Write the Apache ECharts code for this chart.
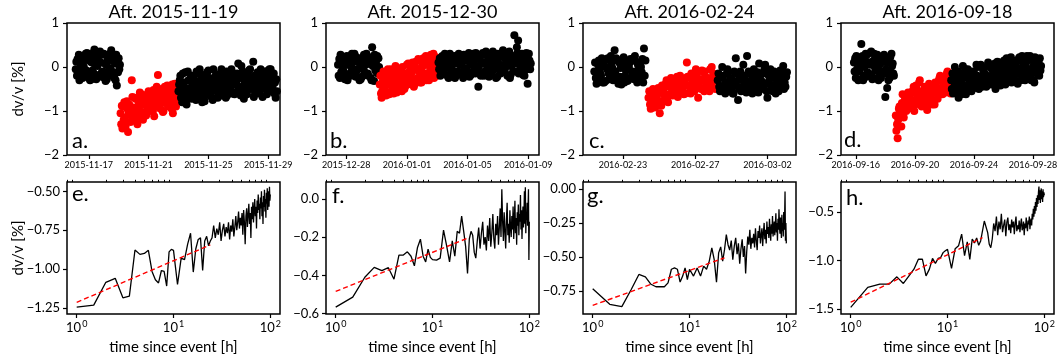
<!DOCTYPE html>
<html>
<head>
<meta charset="utf-8">
<script src="https://cdn.jsdelivr.net/npm/echarts@6/dist/echarts.min.js"></script>
<style>
  html, body { margin: 0; padding: 0; background: #fff; }
  #chart { width: 1058px; height: 363px; }
</style>
</head>
<body>
<div id="chart"></div>
<script>
// ---- data ----
const titles = ['Aft. 2015-11-19', 'Aft. 2015-12-30', 'Aft. 2016-02-24', 'Aft. 2016-09-18'];
const topLetters = ['a.', 'b.', 'c.', 'd.'];
const bottomLetters = ['e.', 'f.', 'g.', 'h.'];

// top row: dv/v every 3 h, three interleaved runs (offset 0, 1, 2 h);
// each panel = before event, first ~4 days after (red), later
const STEP_H = 3;
const aStarts = ['2015-11-16 03:00', '2015-11-19 03:00', '2015-11-23 00:00'];
const aPre = [-0.05, 0.18, -0.3, 0.05, 0.25, -0.15, 0.32, -0.25, 0.12, -0.08, 0.4, -0.28, 0.22, 0.35, -0.12, 0.3, -0.32, 0.15, -0.02, 0.38, -0.2, 0.08, -0.42, 0.2];
const aPre2 = [0.12, -0.1, 0.25, -0.2, 0.0, 0.3, -0.12, 0.18, -0.28, 0.32, 0.05, 0.15, -0.18, 0.1, 0.28, -0.25, 0.05, -0.15, 0.3, -0.1, 0.22, -0.3, 0.12, -0.05];
const aPre3 = [-0.2, 0.28, 0.0, -0.25, 0.15, -0.08, 0.22, -0.3, 0.1, -0.15, 0.25, 0.02, -0.22, 0.3, -0.1, 0.08, -0.28, 0.2, -0.05, 0.15, -0.25, 0.28, -0.12, 0.05];
const aRed = [-1.05, -1.4, -0.8, -1.25, -1.48, -0.95, -0.3, -1.15, -0.72, -1.3, -0.9, -0.62, -1.2, -0.82, -1.05, -0.55, -0.95, -0.7, -1.12, -0.6, -0.18, -0.85, -0.5, -1.0, -0.65, -0.42, -0.9, -0.58, -1.05, -0.38, -0.75];
const aRed2 = [-1.3, -0.9, -1.15, -0.78, -1.02, -1.25, -0.68, -0.98, -1.1, -0.75, -0.58, -1.02, -0.85, -0.7, -0.95, -0.78, -0.6, -1.0, -0.82, -0.45, -0.75, -0.95, -0.62, -0.8, -0.48, -0.88, -0.7, -0.95, -0.52, -0.82, -0.6];
const aRed3 = [-0.88, -1.2, -1.35, -0.95, -0.85, -1.1, -0.92, -0.7, -1.2, -0.85, -1.05, -0.75, -0.65, -1.1, -0.6, -0.88, -1.0, -0.52, -0.72, -0.9, -0.55, -0.68, -1.02, -0.45, -0.7, -0.6, -0.8, -0.4, -0.65, -0.9, -0.5];
const aPost = [-0.55, -0.2, -0.8, -0.35, -0.62, -0.1, -0.48, -0.72, -0.28, -0.55, -0.15, -0.68, -0.4, -0.25, -0.78, -0.45, -0.08, -0.6, -0.32, -0.52, -0.18, -0.7, -0.38, -0.05, -0.58, -0.3, -0.65, -0.12, -0.45, -0.22, -0.62, -0.35, 0.08, -0.55, -0.25, -0.72, -0.4, -0.15, -0.5, -0.28, 0.12, -0.6, -0.2, -0.45, -0.05, -0.68, -0.32, -0.1, -0.55, -0.22, -0.42, -0.15, -0.7];
const aPost2 = [-0.4, -0.7, -0.15, -0.5, -0.85, -0.3, -0.6, -0.2, -0.42, -0.75, -0.35, -0.05, -0.55, -0.28, -0.65, -0.12, -0.5, -0.38, -0.75, -0.25, -0.45, -0.6, -0.15, -0.52, -0.35, -0.7, -0.2, -0.48, -0.05, -0.58, -0.3, -0.15, -0.45, -0.65, -0.1, -0.38, -0.55, -0.25, -0.05, -0.42, -0.68, -0.3, -0.12, -0.55, -0.35, -0.2, -0.5, -0.62, -0.3, -0.05, -0.45, -0.6, -0.28];
const aPost3 = [-0.3, -0.6, -0.45, -0.12, -0.7, -0.5, -0.22, -0.4, -0.62, -0.1, -0.48, -0.3, -0.8, -0.18, -0.52, -0.38, -0.25, -0.68, -0.05, -0.42, -0.55, -0.3, -0.65, -0.2, -0.45, -0.1, -0.52, -0.35, -0.6, -0.18, -0.4, -0.55, -0.25, 0.02, -0.48, -0.3, -0.62, -0.08, -0.35, -0.5, -0.2, -0.4, -0.6, -0.15, -0.28, -0.48, -0.1, -0.38, -0.05, -0.52, -0.25, -0.35, -0.55];

const bStarts = ['2015-12-27 11:00', '2015-12-30 05:00', '2016-01-03 02:00'];
const bPre = [0.05, -0.25, 0.2, -0.1, 0.15, -0.3, 0.22, 0.0, -0.18, 0.25, -0.05, 0.12, -0.28, 0.18, -0.12, 0.3, -0.2, 0.08, 0.45, -0.32, 0.1, -0.15];
const bPre2 = [-0.2, 0.28, -0.08, 0.1, -0.25, 0.05, -0.15, 0.3, 0.12, -0.22, 0.2, -0.3, 0.08, -0.05, 0.25, -0.18, 0.15, -0.25, 0.02, 0.28, -0.12, 0.2];
const bPre3 = [0.18, -0.12, 0.0, -0.28, 0.25, 0.1, -0.2, -0.05, 0.3, -0.1, 0.2, 0.02, -0.22, 0.28, 0.05, -0.15, 0.22, -0.3, 0.15, -0.08, 0.25, 0.0];
const bRed = [-0.4, -0.7, -0.1, -0.55, -0.25, -0.62, -0.05, -0.45, -0.3, -0.58, -0.15, -0.4, 0.0, -0.5, -0.22, 0.08, -0.38, -0.12, -0.45, 0.12, -0.25, -0.05, -0.35, 0.2, -0.15, 0.05, -0.3, 0.28, -0.1, 0.15, -0.2];
const bRed2 = [-0.2, -0.55, -0.35, -0.65, -0.05, -0.4, -0.2, -0.6, 0.02, -0.32, -0.5, -0.1, -0.28, -0.45, 0.05, -0.3, -0.18, 0.1, -0.4, -0.05, 0.18, -0.35, 0.0, -0.2, 0.25, -0.28, 0.12, -0.15, 0.3, -0.05, 0.1];
const bRed3 = [-0.6, -0.3, -0.48, -0.15, -0.62, -0.3, -0.5, -0.12, -0.42, -0.2, -0.05, -0.55, -0.15, -0.3, -0.4, -0.1, 0.02, -0.28, 0.0, -0.32, -0.1, 0.15, -0.22, 0.05, -0.3, 0.2, -0.05, 0.1, -0.25, 0.22, -0.12];
const bPost = [0.1, -0.2, 0.25, -0.05, 0.18, -0.22, 0.3, 0.02, -0.15, 0.22, -0.1, 0.28, 0.05, -0.25, 0.15, -0.08, 0.32, -0.18, 0.2, 0.0, -0.12, -0.45, 0.25, 0.08, -0.2, 0.35, -0.05, 0.18, -0.15, 0.3, 0.1, -0.22, 0.22, -0.02, 0.38, -0.12, 0.15, 0.28, -0.18, 0.05, 0.72, 0.2, 0.6, -0.1, 0.3, 0.0, 0.25, -0.38, 0.15];
const bPost2 = [-0.05, 0.2, -0.15, 0.3, 0.0, -0.25, 0.12, -0.08, 0.25, -0.2, 0.15, 0.05, -0.18, 0.28, -0.1, 0.2, -0.22, 0.08, 0.3, -0.15, 0.18, 0.02, -0.2, 0.32, -0.1, 0.12, 0.25, -0.18, 0.05, 0.2, -0.25, 0.3, 0.0, -0.12, 0.22, 0.08, -0.2, 0.35, 0.1, -0.1, 0.25, 0.45, -0.15, 0.28, 0.05, -0.2, 0.32, 0.1, -0.05];
const bPost3 = [0.2, -0.1, 0.05, 0.28, -0.18, 0.12, -0.05, 0.22, -0.25, 0.08, 0.3, -0.12, 0.18, -0.02, -0.2, 0.25, 0.05, -0.12, 0.15, 0.32, -0.08, 0.2, -0.15, 0.1, 0.28, 0.0, -0.22, 0.15, 0.35, -0.05, 0.2, 0.08, -0.15, 0.3, -0.08, 0.18, 0.02, -0.25, 0.25, 0.12, -0.1, 0.32, 0.05, 0.2, -0.18, 0.15, -0.05, 0.3, 0.08];

const cStarts = ['2016-02-21 10:00', '2016-02-24 10:00', '2016-02-28 06:00'];
const cPre = [-0.1, -0.38, 0.15, -0.2, 0.05, -0.32, 0.2, -0.15, -0.02, 0.38, -0.28, 0.1, -0.4, 0.22, -0.08, -0.3, 0.18, -0.18, 0.25, -0.35, 0.08, -0.12, 0.42];
const cPre2 = [0.1, -0.25, -0.05, 0.2, -0.35, 0.0, -0.15, 0.25, -0.3, -0.1, 0.15, -0.22, 0.05, -0.35, 0.12, 0.0, -0.25, 0.2, -0.1, 0.05, -0.28, 0.18, -0.2];
const cPre3 = [-0.25, 0.05, -0.15, -0.35, 0.15, -0.05, -0.28, 0.1, -0.18, 0.2, -0.38, -0.02, 0.18, -0.2, -0.32, 0.1, -0.1, -0.28, 0.12, -0.22, 0.0, -0.35, 0.15];
const cRed = [-0.7, -0.95, -0.5, -0.85, -0.6, -1.05, -0.42, -0.75, -0.3, -0.62, -0.25, -0.55, -0.4, -0.68, -0.2, -0.48, -0.32, 0.1, -0.58, -0.15, -0.42, -0.05, -0.7, -0.28, -0.5, -0.1, -0.38, -0.55, 0.0, -0.3];
const cRed2 = [-0.55, -0.8, -0.65, -0.9, -0.48, -0.78, -0.6, -0.4, -0.7, -0.45, -0.58, -0.32, -0.62, -0.28, -0.52, -0.38, -0.6, -0.22, -0.45, -0.35, -0.55, -0.2, -0.4, -0.5, -0.12, -0.35, -0.25, -0.05, -0.45, -0.18];
const cRed3 = [-0.85, -0.6, -0.92, -0.7, -0.55, -0.88, -0.5, -0.65, -0.8, -0.35, -0.65, -0.45, -0.22, -0.55, -0.35, -0.62, -0.25, -0.42, -0.6, -0.28, -0.15, -0.48, -0.3, -0.08, -0.55, -0.25, -0.45, -0.35, -0.15, -0.5];
const cPost = [-0.3, -0.55, 0.0, -0.4, -0.15, -0.5, -0.25, -0.6, 0.2, -0.75, -0.1, -0.45, -0.2, 0.25, -0.52, -0.3, -0.05, -0.42, -0.58, -0.18, -0.35, 0.05, -0.7, -0.28, -0.48, -0.1, -0.38, -0.55, -0.2, 0.02, -0.45];
const cPost2 = [-0.15, -0.45, -0.25, -0.6, -0.05, -0.35, -0.5, -0.1, -0.42, -0.28, -0.55, 0.05, -0.3, -0.48, -0.15, -0.6, -0.22, -0.4, 0.08, -0.32, -0.5, -0.15, -0.38, -0.05, -0.55, -0.25, -0.45, -0.12, -0.35, -0.5, -0.22];
const cPost3 = [-0.45, -0.2, -0.52, -0.35, -0.1, -0.28, -0.6, -0.38, -0.15, -0.5, -0.22, -0.35, -0.58, -0.1, -0.4, -0.25, -0.5, -0.12, -0.3, -0.45, -0.05, -0.55, -0.2, -0.42, -0.15, -0.6, -0.3, -0.08, -0.48, -0.35, -0.12];

const dStarts = ['2016-09-15 21:00', '2016-09-18 17:00', '2016-09-22 11:00'];
const dPre = [0.1, -0.25, 0.22, -0.1, 0.52, -0.3, 0.15, 0.28, -0.15, 0.05, -0.28, 0.3, -0.05, 0.2, -0.2, 0.12, 0.25, -0.68, -0.48, 0.18, -0.12, 0.08];
const dPre2 = [-0.1, 0.25, -0.3, 0.05, 0.18, -0.2, 0.3, -0.12, 0.1, 0.35, -0.25, 0.0, 0.22, -0.3, 0.08, -0.1, 0.28, -0.05, 0.15, -0.25, 0.3, -0.15];
const dPre3 = [0.2, -0.05, 0.12, -0.28, 0.25, 0.0, -0.22, 0.1, 0.32, -0.18, 0.15, -0.08, 0.28, 0.05, -0.25, 0.2, -0.15, 0.1, -0.3, 0.22, 0.02, -0.2];
const dRed = [-1.1, -1.62, -0.9, -1.35, -1.05, -0.72, -0.95, -0.65, -0.85, -0.55, -1.0, -0.42, -0.78, -0.3, -0.9, -0.6, -0.48, -0.98, -0.38, -0.7, -0.55, -0.85, -0.45, -0.62, -0.2, -0.5, -0.35, -0.58, -0.1, -0.42];
const dRed2 = [-1.45, -1.2, -0.98, -0.82, -1.15, -0.9, -0.7, -0.88, -0.6, -0.95, -0.75, -0.5, -0.68, -0.82, -0.55, -0.75, -0.88, -0.52, -0.65, -0.45, -0.78, -0.35, -0.6, -0.3, -0.48, -0.62, -0.22, -0.4, -0.55, -0.25];
const dRed3 = [-1.3, -0.95, -1.1, -0.62, -0.82, -1.0, -0.58, -0.75, -0.92, -0.45, -0.85, -0.62, -0.35, -0.7, -0.88, -0.45, -0.62, -0.75, -0.48, -0.85, -0.4, -0.58, -0.72, -0.25, -0.55, -0.35, -0.48, -0.15, -0.38, -0.6];
const dPost = [-0.3, -0.6, 0.0, -0.45, -0.7, -0.15, -0.5, -0.25, -0.62, -0.05, -0.38, -0.55, -0.1, -0.42, -0.2, -0.5, 0.05, -0.32, -0.15, -0.45, 0.1, -0.28, -0.05, -0.38, -0.5, 0.12, -0.2, -0.35, 0.05, -0.15, 0.2, -0.3, -0.08, 0.15, -0.25, 0.0, -0.38, 0.22, -0.12, 0.08, -0.3, 0.25, -0.05, -0.2, 0.15, -0.35, 0.1, -0.1, 0.2];
const dPost2 = [-0.5, -0.15, -0.4, -0.25, -0.55, -0.35, 0.02, -0.45, -0.2, -0.4, -0.1, -0.3, -0.48, -0.18, 0.0, -0.35, -0.25, -0.08, -0.42, -0.2, -0.3, 0.05, -0.25, -0.12, -0.35, -0.05, 0.1, -0.28, -0.1, -0.4, 0.0, -0.18, 0.22, -0.05, -0.3, 0.12, -0.15, -0.05, 0.25, -0.22, 0.05, -0.12, 0.18, -0.3, 0.0, 0.22, -0.15, 0.12, -0.08];
const dPost3 = [-0.15, -0.45, -0.55, -0.1, -0.35, -0.62, -0.2, -0.05, -0.5, -0.28, -0.45, -0.15, -0.3, 0.05, -0.38, -0.22, -0.45, -0.1, -0.3, 0.02, -0.25, -0.4, -0.15, 0.08, -0.3, -0.2, -0.42, -0.05, 0.15, -0.25, -0.12, 0.1, -0.35, -0.2, 0.05, -0.1, 0.2, -0.3, 0.0, -0.18, 0.12, -0.25, 0.25, -0.08, -0.3, 0.05, 0.18, -0.2, 0.02];

// top row x ranges and date ticks
const topRanges = [
  ['2015-11-15 13:00', '2015-11-29 19:00'],
  ['2015-12-26 16:00', '2016-01-09 17:00'],
  ['2016-02-20 19:00', '2016-03-03 14:00'],
  ['2016-09-15 00:00', '2016-09-29 10:00']
];
const topDateTicks = [
  ['2015-11-17', '2015-11-21', '2015-11-25', '2015-11-29'],
  ['2015-12-28', '2016-01-01', '2016-01-05', '2016-01-09'],
  ['2016-02-23', '2016-02-27', '2016-03-02'],
  ['2016-09-16', '2016-09-20', '2016-09-24', '2016-09-28']
];
const topYTicks = [-2, -1, 0, 1];

// bottom row: hours since event (half-hourly below 10 h, hourly after)
const hours = [];
for (let t = 1; t < 10; t += 0.5) hours.push(t);
for (let t = 10; t <= 100; t++) hours.push(t);

const eVals = [-1.246, -1.233, -1.086, -1.06, -1.186, -1.175, -0.878, -0.906, -0.90, -0.88, -1.016, -1.07, -1.09, -1.01, -1.016, -1.11, -0.89, -0.874,
  -0.88, -1.10, -0.93, -0.94, -0.84, -0.77, -1.02, -0.87, -0.81, -0.80, -1.01, -0.82, -0.79, -0.85, -0.82, -0.80,
  -0.72, -0.80, -0.74, -0.78, -0.70, -0.82, -0.75, -0.71, -0.79, -0.73,
  -0.77, -0.70, -0.81, -0.72, -0.76, -0.68, -0.79, -0.73, -0.66, -0.75,
  -0.70, -0.63, -0.74, -0.67, -0.72, -0.64, -0.78, -0.62, -0.70, -0.84,
  -0.66, -0.61, -0.73, -0.65, -0.58, -0.71, -0.64, -0.80, -0.60, -0.68,
  -0.57, -0.70, -0.62, -0.55, -0.66, -0.60, -0.74, -0.56, -0.64, -0.52,
  -0.62, -0.58, -0.68, -0.54, -0.61, -0.50, -0.66, -0.57, -0.71, -0.53,
  -0.60, -0.49, -0.63, -0.55, -0.67, -0.51, -0.58, -0.48, -0.62, -0.54,
  -0.50, -0.60, -0.47, -0.56, -0.52];
const fVals = [-0.566, -0.514, -0.41, -0.358, -0.375, -0.36, -0.42, -0.294, -0.294, -0.277, -0.30, -0.35, -0.254, -0.211, -0.30, -0.33, -0.263, -0.306,
  -0.318, -0.32, -0.31, -0.163, -0.246, -0.33, -0.22, -0.30, -0.17, -0.18, -0.09, -0.17, -0.25, -0.39, -0.21, -0.17,
  -0.19, -0.28, -0.31, -0.22, -0.15, -0.26, -0.18, -0.12, -0.24, -0.20,
  -0.27, -0.14, -0.22, -0.10, -0.25, -0.18, -0.08, -0.21, -0.26, -0.13,
  -0.19, -0.09, -0.24, -0.15, -0.05, -0.20, 0.05, -0.12, -0.22, -0.07,
  -0.17, -0.26, -0.11, -0.02, -0.19, -0.13, -0.23, -0.06, -0.15, -0.20,
  -0.09, -0.16, -0.04, -0.21, -0.12, -0.01, -0.18, -0.10, -0.24, -0.07,
  -0.14, -0.03, -0.19, -0.08, -0.12, 0.02, -0.16, -0.06, -0.21, -0.10,
  -0.04, -0.15, -0.09, 0.04, -0.13, 0.06, -0.18, -0.07, -0.11, -0.02,
  -0.14, -0.05, 0.05, -0.32, -0.12];
const gVals = [-0.733, -0.847, -0.864, -0.738, -0.628, -0.645, -0.70, -0.718, -0.718, -0.718, -0.69, -0.59, -0.58, -0.59, -0.684, -0.64, -0.58, -0.665,
  -0.59, -0.64, -0.58, -0.64, -0.567, -0.59, -0.53, -0.433, -0.52, -0.684, -0.47, -0.426, -0.53, -0.446, -0.336, -0.41,
  -0.45, -0.38, -0.52, -0.42, -0.36, -0.48, -0.40, -0.55, -0.44, -0.37,
  -0.50, -0.42, -0.62, -0.46, -0.35, -0.41, -0.30, -0.44, -0.36, -0.40,
  -0.33, -0.43, -0.29, -0.38, -0.45, -0.31, -0.36, -0.27, -0.40, -0.34,
  -0.29, -0.42, -0.32, -0.25, -0.37, -0.30, -0.40, -0.24, -0.33, -0.28,
  -0.36, -0.22, -0.31, -0.38, -0.26, -0.33, -0.20, -0.35, -0.29, -0.24,
  -0.34, -0.27, -0.18, -0.32, -0.25, -0.38, -0.22, -0.30, -0.15, -0.28,
  -0.33, -0.21, -0.29, -0.36, -0.19, -0.31, -0.25, -0.35, -0.17, -0.30,
  -0.22, -0.02, -0.38, -0.25, -0.40];
const hVals = [-1.483, -1.278, -1.244, -1.244, -1.169, -1.237, -1.159, -1.09, -0.988, -0.988, -1.159, -1.09, -0.98, -1.03, -0.98, -0.97, -0.92, -0.90,
  -0.886, -1.083, -0.88, -0.85, -0.73, -0.95, -0.81, -0.99, -0.78, -0.82, -0.77, -0.845, -0.80, -0.78, -0.595, -0.61,
  -0.715, -0.835, -0.87, -0.78, -0.62, -0.70, -0.55, -0.74, -0.60, -0.68,
  -0.52, -0.71, -0.64, -0.58, -0.75, -0.61, -0.56, -0.69, -0.63, -0.72,
  -0.58, -0.66, -0.60, -0.73, -0.62, -0.55, -0.70, -0.64, -0.68, -0.59,
  -0.71, -0.63, -0.57, -0.69, -0.66, -0.60, -0.74, -0.62, -0.67, -0.56,
  -0.65, -0.70, -0.59, -0.63, -0.55, -0.68, -0.61, -0.57, -0.64, -0.52,
  -0.58, -0.47, -0.55, -0.44, -0.52, -0.40, -0.49, -0.36, -0.45, -0.33,
  -0.42, -0.30, -0.24, -0.38, -0.28, -0.41, -0.31, -0.26, -0.37, -0.29,
  -0.40, -0.27, -0.35, -0.30, -0.33];

// log-linear fits over the first day (start hour, end hour) and their values
const fitHours = [[1, 24], [1, 24], [1, 23], [1, 23]];
const fitVals = [[-1.215, -0.845], [-0.484, -0.202], [-0.855, -0.506], [-1.43, -0.766]];

// bottom row y ticks
const bottomYTicks = [
  [-1.25, -1.0, -0.75, -0.5],
  [-0.6, -0.4, -0.2, 0.0],
  [-0.75, -0.5, -0.25, 0.0],
  [-1.5, -1.0, -0.5]
];
const bottomYDecimals = [2, 1, 2, 1];
const bottomYRange = [[-1.29, -0.44], [-0.602, 0.088], [-0.918, 0.05], [-1.551, -0.194]];
const logMajor = [1, 10, 100];
const logMinor = [0.8, 0.9, 2, 3, 4, 5, 6, 7, 8, 9, 20, 30, 40, 50, 60, 70, 80, 90];

// ---- layout ----
const FONT = 'Lato';
const colLeft = [67, 326, 583, 841];
const W = 213, H = 132, TOP1 = 23, TOP2 = 182;

function toMs(s) {
  const [d, t = '00:00'] = s.split(' ');
  const [y, m, dd] = d.split('-').map(Number);
  const [hh, mm] = t.split(':').map(Number);
  return new Date(y, m - 1, dd, hh, mm).getTime();
}
const pad = n => (n < 10 ? '0' : '') + n;
function fmtDate(ms) {
  const d = new Date(ms);
  return d.getFullYear() + '-' + pad(d.getMonth() + 1) + '-' + pad(d.getDate());
}
const minus = s => s.replace('-', '\u2212');
function segData(start, values, offsetH) {
  const t0 = toMs(start) + offsetH * 3600e3;
  return values.map((v, i) => [t0 + i * STEP_H * 3600e3, v]);
}

const topSegs = [
  [aStarts, [[aPre, aPre2, aPre3], [aRed, aRed2, aRed3], [aPost, aPost2, aPost3]]],
  [bStarts, [[bPre, bPre2, bPre3], [bRed, bRed2, bRed3], [bPost, bPost2, bPost3]]],
  [cStarts, [[cPre, cPre2, cPre3], [cRed, cRed2, cRed3], [cPost, cPost2, cPost3]]],
  [dStarts, [[dPre, dPre2, dPre3], [dRed, dRed2, dRed3], [dPost, dPost2, dPost3]]]
];
const bottomVals = [eVals, fVals, gVals, hVals];

const grid = [], xAxis = [], yAxis = [], series = [], graphic = [];
const tickStyle = { show: true, inside: false, length: 4, lineStyle: { color: '#000', width: 1.2 } };
const noLine = { show: false, onZero: false };

for (let i = 0; i < 4; i++) {
  grid.push({ left: colLeft[i], top: TOP1, width: W, height: H, show: true, borderColor: '#000', borderWidth: 1.5, outerBoundsMode: 'none' });
}
for (let i = 0; i < 4; i++) {
  grid.push({ left: colLeft[i], top: TOP2, width: W, height: H, show: true, borderColor: '#000', borderWidth: 1.5, outerBoundsMode: 'none' });
}

// top row axes (time in ms on a value axis, labelled as dates)
for (let i = 0; i < 4; i++) {
  const ticks = topDateTicks[i].map(toMs);
  xAxis.push({
    type: 'value', gridIndex: i,
    min: toMs(topRanges[i][0]), max: toMs(topRanges[i][1]),
    axisLine: noLine, splitLine: { show: false },
    axisTick: Object.assign({ customValues: ticks }, tickStyle),
    axisLabel: {
      customValues: ticks, formatter: v => fmtDate(v), margin: 6,
      fontSize: 9, color: '#000', fontFamily: FONT, hideOverlap: false
    }
  });
  yAxis.push({
    type: 'value', gridIndex: i, min: -2, max: 1,
    axisLine: noLine, splitLine: { show: false },
    axisTick: Object.assign({ customValues: topYTicks }, tickStyle),
    axisLabel: {
      customValues: topYTicks, formatter: v => minus(String(v)), margin: 8,
      fontSize: 13, color: '#000', fontFamily: FONT
    }
  });
}
// bottom row axes (major log ticks with labels)
for (let i = 0; i < 4; i++) {
  xAxis.push({
    type: 'log', logBase: 10, gridIndex: 4 + i, min: 0.794, max: 125.9,
    axisLine: noLine, splitLine: { show: false }, minorTick: { show: false },
    axisTick: Object.assign({ customValues: logMajor }, tickStyle),
    axisLabel: {
      customValues: logMajor, margin: 6, color: '#000', fontFamily: FONT, fontSize: 13,
      formatter: v => '10{s|' + Math.round(Math.log10(v)) + '}',
      rich: { s: { fontSize: 9, fontFamily: FONT, color: '#000', padding: [0, 0, 7, 1] } }
    },
    name: 'time since event [h]', nameLocation: 'middle', nameGap: 26,
    nameTextStyle: { fontSize: 15, color: '#000', fontFamily: FONT }
  });
  const dec = bottomYDecimals[i];
  yAxis.push({
    type: 'value', gridIndex: 4 + i, min: bottomYRange[i][0], max: bottomYRange[i][1],
    axisLine: noLine, splitLine: { show: false },
    axisTick: Object.assign({ customValues: bottomYTicks[i] }, tickStyle),
    axisLabel: {
      customValues: bottomYTicks[i], formatter: v => minus(v.toFixed(dec)), margin: 7,
      fontSize: 13, color: '#000', fontFamily: FONT
    }
  });
}
// bottom row minor log ticks
for (let i = 0; i < 4; i++) {
  xAxis.push({
    type: 'log', logBase: 10, gridIndex: 4 + i, min: 0.794, max: 125.9,
    axisLine: noLine, splitLine: { show: false },
    axisTick: { show: true, length: 2.2, customValues: logMinor, lineStyle: { color: '#000', width: 1 } },
    axisLabel: { show: false }
  });
}

// top row scatter
topSegs.forEach(([starts, segs], i) => {
  segs.forEach((runs, k) => {
    runs.forEach((vals, j) => {
      series.push({
        type: 'scatter', xAxisIndex: i, yAxisIndex: i,
        data: segData(starts[k], vals, j * STEP_H / 3),
        symbolSize: 8, silent: true,
        itemStyle: { color: k === 1 ? '#ff0000' : '#000', opacity: 1 }
      });
    });
  });
});
// bottom row lines + fits
bottomVals.forEach((vals, i) => {
  series.push({
    type: 'line', xAxisIndex: 4 + i, yAxisIndex: 4 + i,
    data: hours.map((t, k) => [t, vals[k]]),
    showSymbol: false, symbol: 'none', silent: true,
    lineStyle: { color: '#000', width: 1.3 }
  });
  series.push({
    type: 'line', xAxisIndex: 4 + i, yAxisIndex: 4 + i,
    data: fitHours[i].map((t, k) => [t, fitVals[i][k]]),
    showSymbol: false, symbol: 'none', silent: true, z: 3,
    lineStyle: { color: '#ff0000', width: 1.4, type: [5, 3] }
  });
});

// titles, panel letters, y-axis names
const txt = (x, y, text, size, align, extra) => Object.assign({
  type: 'text', x, y, silent: true,
  style: { text, font: size + 'px ' + FONT, fill: '#000', textAlign: align, textVerticalAlign: 'middle' }
}, extra || {});
for (let i = 0; i < 4; i++) {
  graphic.push(txt(colLeft[i] + W / 2, 12, titles[i], 18, 'center'));
}
const topLetterX = [72, 330, 589, 844];
const bottomLetterX = [72, 332, 587, 846];
const topLetterY = [141, 141, 141, 140];
const bottomLetterY = [194, 196, 196, 198];
for (let i = 0; i < 4; i++) {
  graphic.push(txt(topLetterX[i], topLetterY[i], topLetters[i], 22, 'left'));
  graphic.push(txt(bottomLetterX[i], bottomLetterY[i], bottomLetters[i], 22, 'left'));
}
graphic.push(txt(18, TOP1 + H / 2, 'dv/v [%]', 15, 'center', { rotation: Math.PI / 2 }));
graphic.push(txt(18, TOP2 + H / 2, 'dv/v [%]', 15, 'center', { rotation: Math.PI / 2 }));

const chart = echarts.init(document.getElementById('chart'), null, { renderer: 'canvas' });
chart.setOption({
  animation: false,
  backgroundColor: '#fff',
  grid, xAxis, yAxis, series, graphic
});
</script>
</body>
</html>
